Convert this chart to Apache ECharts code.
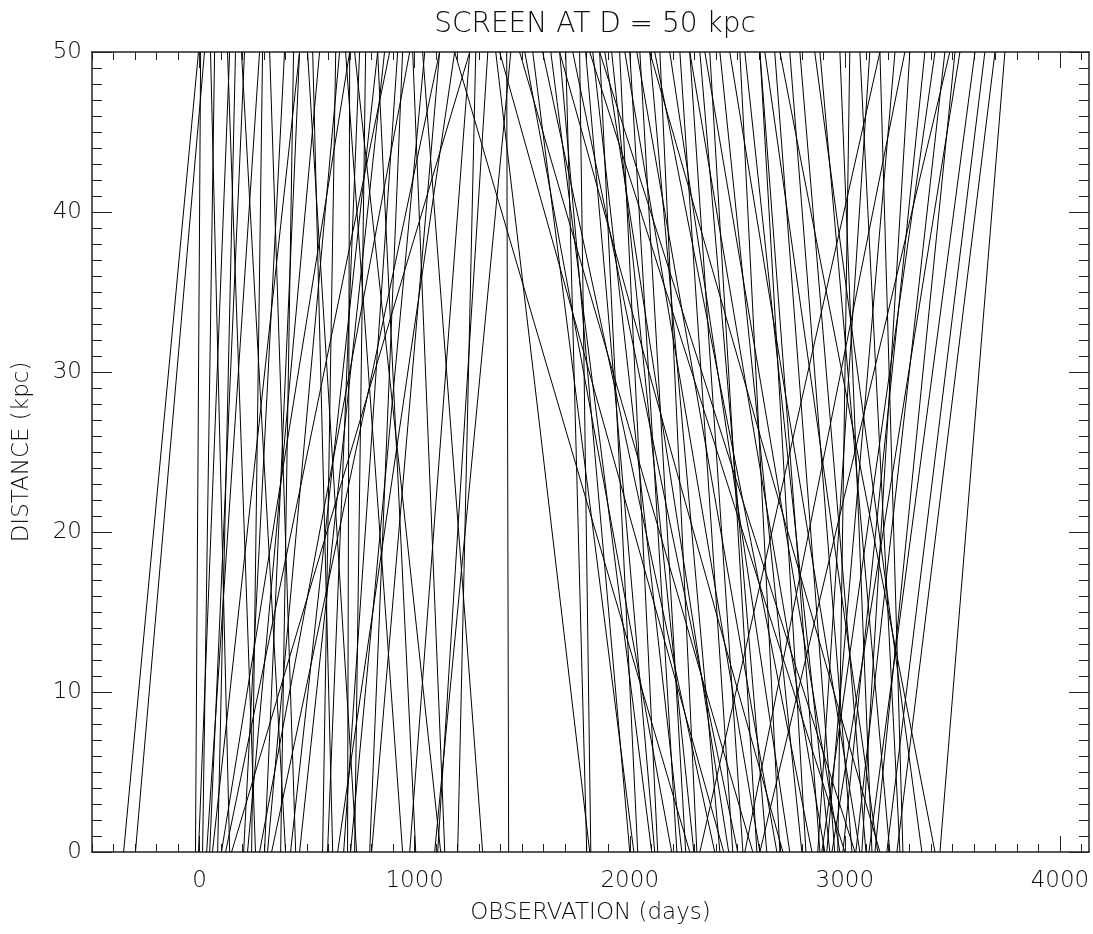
<!DOCTYPE html>
<html>
<head>
<meta charset="utf-8">
<script src="https://cdn.jsdelivr.net/npm/echarts@6/dist/echarts.min.js"></script>
<style>
html,body{margin:0;padding:0;background:#fff;}
#chart{width:1093px;height:934px;}
</style>
</head>
<body>
<div id="chart"></div>
<script>
// Observation day where each ray crosses distance 0 (bottom) and 50 kpc (top)
const bottomDays = [
  -353, -298, -19, -5, 14, 33, 47, 60, 84, 102, 121, 140, 205, 223, 242, 260, 279, 302, 316, 335,
  377, 400, 423, 447, 465, 572, 595, 619, 642, 670, 688, 702, 721, 730, 791, 800, 944, 977, 1005, 1093,
  1107, 1121, 1140, 1200, 1316, 1437, 1800, 1819, 1814, 2000, 2019, 2037, 2102, 2116, 2130, 2195, 2219, 2242, 2260, 2279,
  2298, 2312, 2395, 2419, 2437, 2460, 2479, 2502, 2526, 2572, 2591, 2605, 2637, 2684, 2698, 2712, 2744, 2800, 2819, 2847,
  2874, 2884, 2893, 2907, 2916, 2930, 2940, 2953, 2967, 2977, 2991, 3033, 3051, 3070, 3079, 3098, 3112, 3126, 3140, 3153,
  3195, 3209, 3242, 3256, 3270, 3358, 3419, 3442, 3000, 3163, 3047, 2535, 2326, 2605, 149
];
const topDays = [
  -5, 23, 5, 140, 70, 279, 209, 465, 167, 698, 884, 51, 395, 558, 293, 130, 977, 465, 651, 1116,
  437, 195, 828, 326, 860, 633, 744, 526, 1186, 921, 698, 1047, 772, 502, 944, 1116, 679, 1256, 828, 1447,
  1340, 721, 991, 1284, 1037, 1428, 1702, 1767, 1377, 1674, 1549, 1860, 1633, 1795, 1953, 1512, 2000, 1828, 2047, 1186,
  1916, 2140, 1595, 2093, 1395, 1884, 2233, 1735, 2279, 1488, 2372, 1977, 2326, 2033, 2512, 1674, 2186, 2419, 2605, 2116,
  3116, 2605, 3419, 2279, 3233, 2535, 3535, 2674, 3023, 2349, 3372, 2744, 3465, 2465, 3302, 2791, 3605, 2977, 3512, 2628,
  3651, 2884, 3698, 3070, 3163, 2860, 2698, 3744, 1814, 2093, 1860, 3279, 3163, 3488, 1256
];
const distanceRange = [0, 50];
const xMajorTicks = [0, 1000, 2000, 3000, 4000];
const yMajorTicks = [0, 10, 20, 30, 40, 50];
const xMinorTicks = [];
for (let v = -500; v <= 4100; v += 100) xMinorTicks.push(v);
const yMinorTicks = [];
for (let v = 0; v <= 50; v += 1) yMinorTicks.push(v);

const FONT = "'DejaVu Sans', 'Liberation Sans', sans-serif";
const INK = '#222';
const TXT = '#0d0d0d';
const X_MIN = -500, X_MAX = 4135;
const plain = v => String(v);

function xAx(pos, ticks, len, labels, line) {
  return {
    type: 'value', position: pos, min: X_MIN, max: X_MAX,
    axisLine: {show: line, onZero: false, lineStyle: {color: INK, width: 1.5}},
    axisTick: {show: true, inside: true, length: len, customValues: ticks, lineStyle: {color: INK, width: 1}},
    axisLabel: labels ? {show: true, customValues: ticks, formatter: plain, color: TXT, fontFamily: FONT, fontWeight: 200, fontSize: 23, margin: 18} : {show: false},
    splitLine: {show: false}
  };
}
function yAx(pos, ticks, len, labels, line) {
  return {
    type: 'value', position: pos, min: distanceRange[0], max: distanceRange[1],
    axisLine: {show: line, onZero: false, lineStyle: {color: INK, width: 1.5}},
    axisTick: {show: true, inside: true, length: len, customValues: ticks, lineStyle: {color: INK, width: 1}},
    axisLabel: labels ? {show: true, customValues: ticks, formatter: plain, color: TXT, fontFamily: FONT, fontWeight: 200, fontSize: 23, margin: 10} : {show: false},
    splitLine: {show: false}
  };
}

const xAxes = [
  xAx('bottom', xMajorTicks, 16, true, true),
  xAx('bottom', xMinorTicks, 8, false, false),
  xAx('top', xMajorTicks, 16, false, true),
  xAx('top', xMinorTicks, 8, false, false)
];
xAxes[0].name = 'OBSERVATION (days)';
xAxes[0].nameLocation = 'middle';
xAxes[0].nameGap = 50;
xAxes[0].nameTextStyle = {color: TXT, fontFamily: FONT, fontWeight: 200, fontSize: 23};

const yAxes = [
  yAx('left', yMajorTicks, 20, true, true),
  yAx('left', yMinorTicks, 10, false, false),
  yAx('right', yMajorTicks, 20, false, true),
  yAx('right', yMinorTicks, 10, false, false)
];
yAxes[0].name = 'DISTANCE (kpc)';
yAxes[0].nameLocation = 'middle';
yAxes[0].nameGap = 58;
yAxes[0].nameTextStyle = {color: TXT, fontFamily: FONT, fontWeight: 200, fontSize: 23};

const series = bottomDays.map((b, i) => ({
  type: 'line',
  xAxisIndex: 0, yAxisIndex: 0,
  data: [[b, distanceRange[0]], [topDays[i], distanceRange[1]]],
  symbol: 'none', silent: true, animation: false,
  lineStyle: {color: '#000', width: 1}
}));

const chart = echarts.init(document.getElementById('chart'), null, {renderer: 'canvas'});
chart.setOption({
  backgroundColor: '#fff',
  animation: false,
  title: {
    text: 'SCREEN AT D = 50 kpc', left: 590, textAlign: 'center', top: 6,
    textStyle: {color: TXT, fontFamily: FONT, fontSize: 28, fontWeight: 200}
  },
  grid: {left: 92, top: 52, width: 997, height: 800, containLabel: false},
  xAxis: xAxes,
  yAxis: yAxes,
  series: series
});
</script>
</body>
</html>
